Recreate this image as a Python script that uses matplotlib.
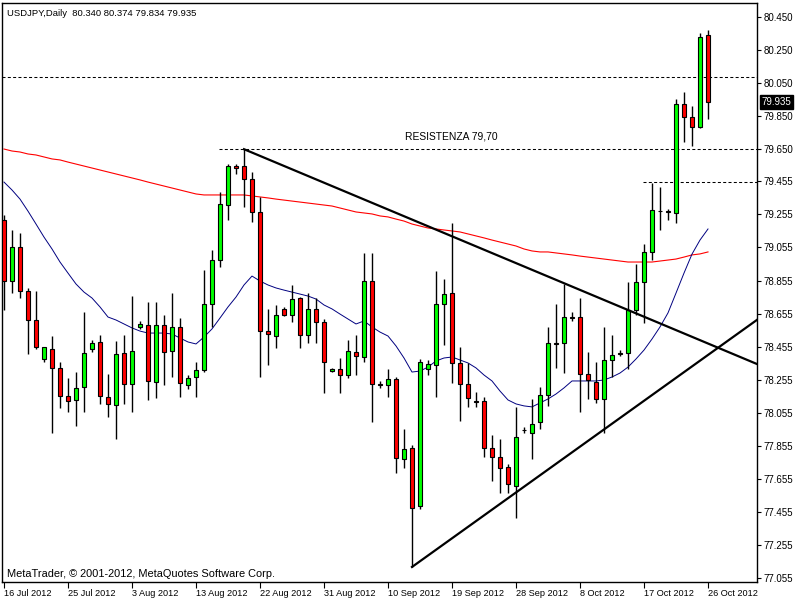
import numpy as np
import matplotlib
matplotlib.use("Agg")
import matplotlib.pyplot as plt

plt.rcParams["font.family"] = ["Liberation Sans", "DejaVu Sans"]

# ── data (USDJPY daily) ──────────────────────────────────────
opens = [79.221, 78.852, 79.058, 78.791, 78.616, 78.380, 78.441, 78.326, 78.156, 78.132,
         78.211, 78.441, 78.483, 78.150, 78.102, 78.416, 78.229, 78.574, 78.586, 78.241,
         78.586, 78.428, 78.574, 78.223, 78.271, 78.313, 78.713, 78.979, 79.312, 79.549,
         79.549, 79.469, 79.270, 78.549, 78.519, 78.683, 78.646, 78.749, 78.525, 78.683,
         78.604, 78.307, 78.319, 78.283, 78.422, 78.392, 78.852, 78.229, 78.223, 78.259,
         77.775, 77.842, 77.490, 78.319, 78.344, 78.713, 78.779, 78.356, 78.229, 78.126,
         78.126, 77.842, 77.787, 77.727, 77.611, 77.950, 77.932, 77.999, 78.162, 78.477,
         78.477, 78.634, 78.634, 78.289, 78.241, 78.138, 78.374, 78.416, 78.416, 78.677,
         78.846, 79.027, 79.276, 79.276, 79.264, 79.924, 79.845, 79.785, 80.340]
highs = [79.251, 79.160, 79.142, 78.809, 78.791, 78.453, 78.519, 78.362, 78.265, 78.301,
         78.664, 78.495, 78.525, 78.289, 78.489, 78.525, 78.761, 78.610, 78.725, 78.725,
         78.646, 78.779, 78.628, 78.283, 78.362, 78.918, 79.040, 79.390, 79.561, 79.561,
         79.650, 79.512, 79.360, 78.683, 78.707, 78.695, 78.828, 78.755, 78.779, 78.749,
         78.622, 78.326, 78.386, 78.495, 78.525, 79.021, 79.021, 78.247, 78.319, 78.271,
         77.957, 77.860, 78.380, 78.374, 78.912, 78.864, 79.203, 78.453, 78.356, 78.180,
         78.150, 77.920, 77.896, 77.745, 78.090, 77.969, 78.138, 78.211, 78.574, 78.713,
         78.834, 78.664, 78.749, 78.422, 78.362, 78.574, 78.525, 78.435, 78.846, 78.955,
         79.076, 79.445, 79.421, 79.288, 79.954, 79.996, 79.912, 80.353, 80.374]
lows = [78.677, 78.779, 78.749, 78.410, 78.441, 78.362, 77.932, 78.084, 78.059, 77.975,
        78.059, 78.422, 78.108, 78.029, 77.896, 78.108, 78.059, 78.562, 78.132, 78.144,
        78.223, 78.271, 78.150, 78.199, 78.150, 78.301, 78.574, 78.937, 79.221, 79.501,
        79.301, 79.209, 78.271, 78.344, 78.446, 78.640, 78.604, 78.446, 78.477, 78.477,
        78.174, 78.301, 78.174, 78.265, 78.283, 78.362, 77.999, 78.204, 78.150, 77.690,
        77.721, 77.121, 77.472, 78.283, 78.150, 78.465, 78.235, 78.005, 78.090, 78.090,
        77.787, 77.641, 77.569, 77.569, 77.417, 77.932, 77.775, 77.957, 78.096, 78.325,
        78.295, 78.610, 78.059, 78.138, 78.114, 77.932, 78.271, 78.398, 78.319, 78.646,
        78.598, 78.979, 79.160, 79.221, 79.203, 79.693, 79.669, 79.778, 79.834]
closes = [78.852, 79.058, 78.791, 78.616, 78.453, 78.453, 78.326, 78.156, 78.126, 78.204,
          78.416, 78.477, 78.156, 78.108, 78.410, 78.229, 78.428, 78.592, 78.247, 78.586,
          78.422, 78.574, 78.235, 78.265, 78.313, 78.713, 78.979, 79.318, 79.549, 79.537,
          79.469, 79.270, 78.549, 78.531, 78.646, 78.646, 78.743, 78.525, 78.683, 78.604,
          78.362, 78.319, 78.283, 78.428, 78.398, 78.852, 78.229, 78.223, 78.259, 77.781,
          77.836, 77.478, 78.362, 78.350, 78.713, 78.773, 78.356, 78.229, 78.144, 78.120,
          77.842, 77.787, 77.721, 77.624, 77.908, 77.950, 77.987, 78.162, 78.477, 78.471,
          78.634, 78.628, 78.289, 78.253, 78.138, 78.374, 78.404, 78.410, 78.677, 78.846,
          79.027, 79.282, 79.276, 79.270, 79.924, 79.845, 79.785, 80.330, 79.935]

# slow (red) and fast (blue) moving averages
ma_red = [79.651, 79.639, 79.633, 79.621, 79.615, 79.603, 79.591, 79.585, 79.572, 79.560,
          79.548, 79.536, 79.524, 79.512, 79.500, 79.488, 79.476, 79.464, 79.451, 79.439,
          79.427, 79.415, 79.403, 79.391, 79.379, 79.373, 79.373, 79.373, 79.373, 79.373,
          79.373, 79.367, 79.361, 79.355, 79.348, 79.342, 79.336, 79.330, 79.324, 79.318,
          79.312, 79.306, 79.294, 79.282, 79.270, 79.264, 79.258, 79.246, 79.240, 79.227,
          79.215, 79.197, 79.185, 79.173, 79.167, 79.161, 79.155, 79.149, 79.137, 79.125,
          79.113, 79.100, 79.088, 79.076, 79.064, 79.046, 79.034, 79.028, 79.028, 79.022,
          79.016, 79.010, 79.003, 78.997, 78.991, 78.985, 78.979, 78.973, 78.967, 78.967,
          78.967, 78.967, 78.973, 78.979, 78.985, 78.997, 79.010, 79.016, 79.028]
ma_blue = [79.451, 79.403, 79.348, 79.275, 79.197, 79.118, 79.046, 78.967, 78.900, 78.834,
           78.785, 78.749, 78.695, 78.634, 78.616, 78.592, 78.568, 78.549, 78.537, 78.537,
           78.537, 78.531, 78.507, 78.483, 78.471, 78.513, 78.562, 78.628, 78.695, 78.755,
           78.828, 78.882, 78.852, 78.828, 78.810, 78.797, 78.785, 78.773, 78.761, 78.743,
           78.707, 78.683, 78.652, 78.622, 78.592, 78.610, 78.574, 78.543, 78.519, 78.459,
           78.386, 78.301, 78.307, 78.331, 78.368, 78.386, 78.392, 78.374, 78.356, 78.326,
           78.283, 78.247, 78.186, 78.132, 78.108, 78.096, 78.090, 78.114, 78.138, 78.168,
           78.205, 78.247, 78.247, 78.247, 78.247, 78.253, 78.271, 78.295, 78.331, 78.380,
           78.434, 78.501, 78.574, 78.659, 78.779, 78.900, 79.015, 79.100, 79.167]

date_labels = ["16 Jul 2012", "25 Jul 2012", "3 Aug 2012", "13 Aug 2012", "22 Aug 2012",
               "31 Aug 2012", "10 Sep 2012", "19 Sep 2012", "28 Sep 2012", "8 Oct 2012",
               "17 Oct 2012", "26 Oct 2012"]
price_ticks = [80.450, 80.250, 80.050, 79.850, 79.650, 79.455, 79.255, 79.055, 78.855,
               78.655, 78.455, 78.255, 78.055, 77.855, 77.655, 77.455, 77.255, 77.055]

# hand drawn objects: horizontal levels and trendlines (bar index, price)
level_top = 80.085
level_res = 79.650
level_mid = 79.450
trend_down = ([30, 94.1], [79.650, 78.350])
trend_up = ([51, 94.1], [77.121, 78.616])


def main():
    o, h, l, c = map(np.array, (opens, highs, lows, closes))
    x = np.arange(len(o))

    fig = plt.figure(figsize=(8, 6), dpi=100)
    ax = fig.add_axes([2 / 800, 18 / 600, 755 / 800, 579 / 600])

    # ── candles ──────────────────────────────────────────────
    up = c >= o
    ax.vlines(x, l, h, color="black", lw=1, zorder=3)
    ax.bar(x, np.abs(c - o), bottom=np.minimum(o, c), width=0.55,
           color=np.where(up, "#00ff00", "#ff0000"), edgecolor="black",
           linewidth=0.8, zorder=4)

    # ── moving averages ──────────────────────────────────────
    ax.plot(x, ma_red, color="#ff0000", lw=0.8, zorder=2)
    ax.plot(x, ma_blue, color="#000080", lw=0.7, zorder=2)

    # ── levels & trendlines ──────────────────────────────────
    dash = (0, (2.9, 2.2))
    ax.axhline(level_top, color="black", lw=0.75, ls=dash, zorder=1)
    ax.plot([26.9, 94.2], [level_res] * 2, color="black", lw=0.75, ls=dash, zorder=1)
    ax.plot([79.9, 94.2], [level_mid] * 2, color="black", lw=0.75, ls=dash, zorder=1)
    ax.plot(*trend_down, color="black", lw=1.6, zorder=5)
    ax.plot(*trend_up, color="black", lw=1.6, zorder=5)
    ax.text(55.9, 79.724, "RESISTENZA 79,70", fontsize=7.4, ha="center", va="center")

    # ── axes ─────────────────────────────────────────────────
    ax.set_xlim(-0.25, 94.125)
    ax.set_ylim(77.030, 80.535)
    for sp in ax.spines.values():
        sp.set_color("black")
        sp.set_linewidth(1)

    ax.yaxis.tick_right()
    ax.set_yticks(price_ticks)
    ax.set_yticklabels([f"{p:.3f}" for p in price_ticks])
    ax.tick_params(axis="y", direction="out", length=3, width=0.8,
                   labelsize=7, pad=2)

    ax.set_xticks(np.arange(0, 89, 8))
    ax.set_xticklabels(date_labels)
    ax.tick_params(axis="x", direction="out", length=4, width=0.8,
                   labelsize=6.6, pad=1)
    for lab in ax.get_xticklabels():
        lab.set_horizontalalignment("left")

    # ── texts ────────────────────────────────────────────────
    ax.text(0.006, 0.99, "USDJPY,Daily  80.340 80.374 79.834 79.935",
            transform=ax.transAxes, fontsize=6.8, va="top", ha="left")
    ax.text(0.006, 0.006, "MetaTrader, © 2001-2012, MetaQuotes Software Corp.",
            transform=ax.transAxes, fontsize=7.9, va="bottom", ha="left")
    ax.text(1.006, closes[-1], f"{closes[-1]:.3f}", transform=ax.get_yaxis_transform(),
            fontsize=7, color="white", va="center", ha="left",
            bbox=dict(boxstyle="square,pad=0.2", fc="black", ec="black"))

    fig.savefig("out.png", dpi=100)
    plt.close(fig)


if __name__ == '__main__':
    main()
